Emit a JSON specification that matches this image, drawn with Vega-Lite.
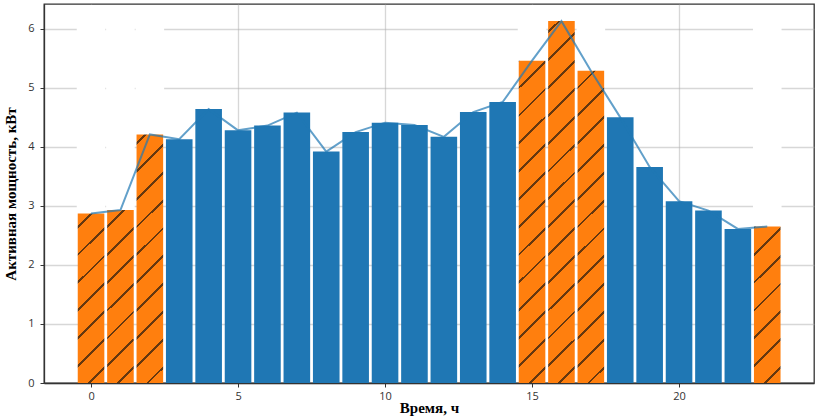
{
  "$schema": "https://vega.github.io/schema/vega-lite/v6.json",
  "width": 770,
  "height": 379,
  "autosize": "none",
  "padding": {"left": 44, "top": 4, "right": 4, "bottom": 35},
  "background": "white",
  "config": {
    "view": {"stroke": "#333333", "strokeWidth": 1.3},
    "axis": {
      "zindex": 1,
      "grid": true,
      "gridColor": "#b0b0b0",
      "gridOpacity": 0.5,
      "gridWidth": 1.3,
      "domainColor": "#333333",
      "domainWidth": 1.3,
      "tickColor": "#333333",
      "tickSize": 4,
      "tickWidth": 1,
      "labelFont": "Open Sans",
      "labelFontSize": 11,
      "labelColor": "#333333",
      "labelPadding": 3,
      "titleFont": "Liberation Serif",
      "titleFontWeight": "bold",
      "titleFontSize": 15,
      "titleColor": "#000000"
    }
  },
  "data": {
    "values": [
      {"hour": 0, "power": 2.87, "zone": "peak"},
      {"hour": 1, "power": 2.93, "zone": "peak"},
      {"hour": 2, "power": 4.21, "zone": "peak"},
      {"hour": 3, "power": 4.13, "zone": "normal"},
      {"hour": 4, "power": 4.64, "zone": "normal"},
      {"hour": 5, "power": 4.28, "zone": "normal"},
      {"hour": 6, "power": 4.36, "zone": "normal"},
      {"hour": 7, "power": 4.58, "zone": "normal"},
      {"hour": 8, "power": 3.92, "zone": "normal"},
      {"hour": 9, "power": 4.25, "zone": "normal"},
      {"hour": 10, "power": 4.41, "zone": "normal"},
      {"hour": 11, "power": 4.37, "zone": "normal"},
      {"hour": 12, "power": 4.17, "zone": "normal"},
      {"hour": 13, "power": 4.59, "zone": "normal"},
      {"hour": 14, "power": 4.76, "zone": "normal"},
      {"hour": 15, "power": 5.46, "zone": "peak"},
      {"hour": 16, "power": 6.13, "zone": "peak"},
      {"hour": 17, "power": 5.29, "zone": "peak"},
      {"hour": 18, "power": 4.5, "zone": "normal"},
      {"hour": 19, "power": 3.66, "zone": "normal"},
      {"hour": 20, "power": 3.08, "zone": "normal"},
      {"hour": 21, "power": 2.92, "zone": "normal"},
      {"hour": 22, "power": 2.61, "zone": "normal"},
      {"hour": 23, "power": 2.65, "zone": "peak"}
    ]
  },
  "encoding": {
    "x": {
      "field": "hour",
      "type": "quantitative",
      "scale": {"domain": [-1.6, 24.59], "nice": false, "zero": false, "padding": 0},
      "axis": {"values": [0, 5, 10, 15, 20], "title": "Время, ч", "titlePadding": -1}
    }
  },
  "layer": [
    {
      "transform": [{"filter": "datum.zone === 'peak'"}],
      "mark": {
        "type": "bar",
        "width": 26.6,
        "fill": {
          "gradient": "linear",
          "x1": 0, "y1": 0, "x2": 0.07474, "y2": 1.0649,
          "stops": [
            {"offset": 0, "color": "#ff7f0e"},
            {"offset": 0.06065, "color": "#ff7f0e"}, {"offset": 0.06065, "color": "#66380f"}, {"offset": 0.06755, "color": "#66380f"}, {"offset": 0.06755, "color": "#ff7f0e"},
            {"offset": 0.12968, "color": "#ff7f0e"}, {"offset": 0.12968, "color": "#66380f"}, {"offset": 0.13659, "color": "#66380f"}, {"offset": 0.13659, "color": "#ff7f0e"},
            {"offset": 0.19872, "color": "#ff7f0e"}, {"offset": 0.19872, "color": "#66380f"}, {"offset": 0.20562, "color": "#66380f"}, {"offset": 0.20562, "color": "#ff7f0e"},
            {"offset": 0.26775, "color": "#ff7f0e"}, {"offset": 0.26775, "color": "#66380f"}, {"offset": 0.27465, "color": "#66380f"}, {"offset": 0.27465, "color": "#ff7f0e"},
            {"offset": 0.33678, "color": "#ff7f0e"}, {"offset": 0.33678, "color": "#66380f"}, {"offset": 0.34369, "color": "#66380f"}, {"offset": 0.34369, "color": "#ff7f0e"},
            {"offset": 0.40582, "color": "#ff7f0e"}, {"offset": 0.40582, "color": "#66380f"}, {"offset": 0.41272, "color": "#66380f"}, {"offset": 0.41272, "color": "#ff7f0e"},
            {"offset": 0.47485, "color": "#ff7f0e"}, {"offset": 0.47485, "color": "#66380f"}, {"offset": 0.48176, "color": "#66380f"}, {"offset": 0.48176, "color": "#ff7f0e"},
            {"offset": 0.54389, "color": "#ff7f0e"}, {"offset": 0.54389, "color": "#66380f"}, {"offset": 0.55079, "color": "#66380f"}, {"offset": 0.55079, "color": "#ff7f0e"},
            {"offset": 0.61292, "color": "#ff7f0e"}, {"offset": 0.61292, "color": "#66380f"}, {"offset": 0.61982, "color": "#66380f"}, {"offset": 0.61982, "color": "#ff7f0e"},
            {"offset": 0.68195, "color": "#ff7f0e"}, {"offset": 0.68195, "color": "#66380f"}, {"offset": 0.68886, "color": "#66380f"}, {"offset": 0.68886, "color": "#ff7f0e"},
            {"offset": 0.75099, "color": "#ff7f0e"}, {"offset": 0.75099, "color": "#66380f"}, {"offset": 0.75789, "color": "#66380f"}, {"offset": 0.75789, "color": "#ff7f0e"},
            {"offset": 0.82002, "color": "#ff7f0e"}, {"offset": 0.82002, "color": "#66380f"}, {"offset": 0.82692, "color": "#66380f"}, {"offset": 0.82692, "color": "#ff7f0e"},
            {"offset": 0.88905, "color": "#ff7f0e"}, {"offset": 0.88905, "color": "#66380f"}, {"offset": 0.89596, "color": "#66380f"}, {"offset": 0.89596, "color": "#ff7f0e"},
            {"offset": 0.95809, "color": "#ff7f0e"}, {"offset": 0.95809, "color": "#66380f"}, {"offset": 0.96499, "color": "#66380f"}, {"offset": 0.96499, "color": "#ff7f0e"},
            {"offset": 1, "color": "#ff7f0e"}
          ]
        }
      },
      "encoding": {
        "y": {"datum": 6.38, "type": "quantitative"}
      }
    },
    {
      "transform": [{"filter": "datum.zone === 'peak'"}],
      "mark": {"type": "bar", "width": 28.6, "fill": "white"},
      "encoding": {
        "y": {"field": "power", "type": "quantitative"},
        "y2": {"datum": 6.405}
      }
    },
    {
      "transform": [{"filter": "datum.zone === 'normal'"}],
      "mark": {"type": "bar", "width": 26.6, "fill": "#1f77b4"},
      "encoding": {
        "y": {"field": "power", "type": "quantitative"}
      }
    },
    {
      "mark": {"type": "line", "stroke": "#1f77b4", "strokeOpacity": 0.7, "strokeWidth": 2},
      "encoding": {
        "y": {
          "field": "power",
          "type": "quantitative",
          "scale": {"domain": [0, 6.42], "nice": false, "zero": true},
          "axis": {"values": [0, 1, 2, 3, 4, 5, 6], "format": "d", "labelPadding": 6, "title": "Активная мощность, кВт", "titlePadding": 9}
        }
      }
    }
  ]
}
